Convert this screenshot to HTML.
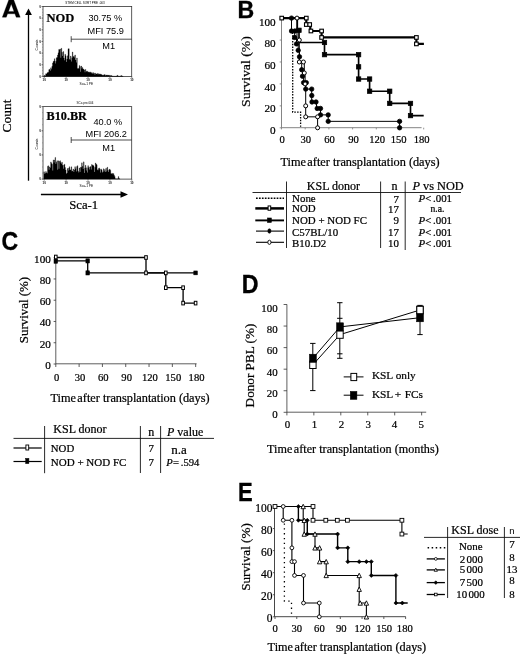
<!DOCTYPE html>
<html><head><meta charset="utf-8"><title>Figure</title>
<style>
html,body{margin:0;padding:0;background:#fff;}
body{width:520px;height:655px;overflow:hidden;font-family:"Liberation Serif",serif;}
svg{display:block;opacity:0.999;will-change:transform;}
text{fill:#000;} .b{stroke:#000;stroke-width:0.22px;}
</style></head><body>
<svg width="520" height="655" viewBox="0 0 520 655">
<rect x="0" y="0" width="520" height="655" fill="#fff"/>
<path d="M2.3,17.2 L9.0,-0.7 L13.5,-0.7 L20.2,17.2 L16.2,17.2 L14.92,13.8 L7.58,13.8 L6.3,17.2 Z M8.5,11.4 L14.0,11.4 L11.25,3.9 Z" fill="#000" fill-rule="evenodd" stroke="#000" stroke-width="0.3"/>
<text transform="translate(237.4,17.5) scale(0.98,1)" font-size="23.6" font-family="Liberation Sans, sans-serif" font-weight="bold" stroke="#000" stroke-width="0.35">B</text>
<text transform="translate(1.5,249.5) scale(0.92,1)" font-size="25" font-family="Liberation Sans, sans-serif" font-weight="bold" stroke="#000" stroke-width="0.35">C</text>
<text transform="translate(241.7,293.3) scale(0.93,1)" font-size="25" font-family="Liberation Sans, sans-serif" font-weight="bold" stroke="#000" stroke-width="0.35">D</text>
<text transform="translate(237.9,500.5) scale(0.88,1)" font-size="25" font-family="Liberation Sans, sans-serif" font-weight="bold" stroke="#000" stroke-width="0.35">E</text>
<line x1="28.50" y1="13.00" x2="28.50" y2="180.70" stroke="#000" stroke-width="1.3" />
<path d="M28.5,8.6 L31.9,15 L25.1,15 Z" fill="#000"/>
<line x1="40.90" y1="194.50" x2="122.00" y2="194.50" stroke="#000" stroke-width="1.3" />
<path d="M128,194.5 L120.5,191.2 L120.5,197.8 Z" fill="#000"/>
<text class="b" transform="translate(11.40,116.00) scale(1.0,1) rotate(-90)" font-size="13.4" text-anchor="middle" font-family="Liberation Serif, serif" >Count</text>
<text class="b" x="69.30" y="209.30" font-size="12.7" text-anchor="start" font-family="Liberation Serif, serif" >Sca-1</text>
<rect x="43" y="6.5" width="88.69999999999999" height="69.9" fill="none" stroke="#333" stroke-width="0.8"/>
<path d="M43.80,76.40 L43.80,75.84 L44.42,75.84 L44.42,75.34 L45.04,75.34 L45.04,75.64 L45.66,75.64 L45.66,73.70 L46.28,73.70 L46.28,73.88 L46.90,73.88 L46.90,72.95 L47.52,72.95 L47.52,72.23 L48.14,72.23 L48.14,72.30 L48.76,72.30 L48.76,69.64 L49.38,69.64 L49.38,69.17 L50.00,69.17 L50.00,70.77 L50.62,70.77 L50.62,67.83 L51.24,67.83 L51.24,69.37 L51.86,69.37 L51.86,66.36 L52.48,66.36 L52.48,63.03 L53.10,63.03 L53.10,61.47 L53.72,61.47 L53.72,60.95 L54.34,60.95 L54.34,58.72 L54.96,58.72 L54.96,63.62 L55.58,63.62 L55.58,61.28 L56.20,61.28 L56.20,57.79 L56.82,57.79 L56.82,57.58 L57.44,57.58 L57.44,55.06 L58.06,55.06 L58.06,52.82 L58.68,52.82 L58.68,49.45 L59.30,49.45 L59.30,49.41 L59.92,49.41 L59.92,48.97 L60.54,48.97 L60.54,57.79 L61.16,57.79 L61.16,48.27 L61.78,48.27 L61.78,52.32 L62.40,52.32 L62.40,56.11 L63.02,56.11 L63.02,51.60 L63.64,51.60 L63.64,57.88 L64.26,57.88 L64.26,60.27 L64.88,60.27 L64.88,54.22 L65.50,54.22 L65.50,55.78 L66.12,55.78 L66.12,62.07 L66.74,62.07 L66.74,58.94 L67.36,58.94 L67.36,55.86 L67.98,55.86 L67.98,48.78 L68.60,48.78 L68.60,48.78 L69.22,48.78 L69.22,59.14 L69.84,59.14 L69.84,59.87 L70.46,59.87 L70.46,56.09 L71.08,56.09 L71.08,61.52 L71.70,61.52 L71.70,57.64 L72.32,57.64 L72.32,51.98 L72.94,51.98 L72.94,57.11 L73.56,57.11 L73.56,56.05 L74.18,56.05 L74.18,57.57 L74.80,57.57 L74.80,54.94 L75.42,54.94 L75.42,60.09 L76.04,60.09 L76.04,62.57 L76.66,62.57 L76.66,57.92 L77.28,57.92 L77.28,68.51 L77.90,68.51 L77.90,68.27 L78.52,68.27 L78.52,68.87 L79.14,68.87 L79.14,65.39 L79.76,65.39 L79.76,66.54 L80.38,66.54 L80.38,71.80 L81.00,71.80 L81.00,66.04 L81.62,66.04 L81.62,68.55 L82.24,68.55 L82.24,67.54 L82.86,67.54 L82.86,68.94 L83.48,68.94 L83.48,69.35 L84.10,69.35 L84.10,70.03 L84.72,70.03 L84.72,72.33 L85.34,72.33 L85.34,69.41 L85.96,69.41 L85.96,71.25 L86.58,71.25 L86.58,71.44 L87.20,71.44 L87.20,71.14 L87.82,71.14 L87.82,72.27 L88.44,72.27 L88.44,71.92 L89.06,71.92 L89.06,71.92 L89.68,71.92 L89.68,72.72 L90.30,72.72 L90.30,71.88 L90.92,71.88 L90.92,72.51 L91.54,72.51 L91.54,73.33 L92.16,73.33 L92.16,73.38 L92.78,73.38 L92.78,72.47 L93.40,72.47 L93.40,73.60 L94.02,73.60 L94.02,73.15 L94.64,73.15 L94.64,74.85 L95.26,74.85 L95.26,73.17 L95.88,73.17 L95.88,73.90 L96.50,73.90 L96.50,73.90 L97.12,73.90 L97.12,73.38 L97.74,73.38 L97.74,74.60 L98.36,74.60 L98.36,73.68 L98.98,73.68 L98.98,74.30 L99.60,74.30 L99.60,73.89 L100.22,73.89 L100.22,74.18 L100.84,74.18 L100.84,74.34 L101.46,74.34 L101.46,74.76 L102.08,74.76 L102.08,75.30 L102.70,75.30 L102.70,74.88 L103.32,74.88 L103.32,75.14 L103.94,75.14 L103.94,74.69 L104.56,74.69 L104.56,74.62 L105.18,74.62 L105.18,75.44 L105.80,75.44 L105.80,75.25 L106.42,75.25 L106.42,74.97 L107.04,74.97 L107.04,75.18 L107.66,75.18 L107.66,75.10 L108.28,75.10 L108.28,75.37 L108.90,75.37 L108.90,75.28 L109.52,75.28 L109.52,75.40 L110.14,75.40 L110.14,75.38 L110.76,75.38 L110.76,75.70 L111.38,75.70 L111.38,75.59 L112.00,75.59 L112.00,76.08 L112.62,76.08 L112.62,76.22 L113.24,76.22 L113.24,76.19 L113.86,76.19 L113.86,76.19 L114.48,76.19 L114.48,76.31 L115.10,76.31 L115.10,76.32 L115.72,76.32 L115.72,76.19 L116.34,76.19 L116.34,75.97 L116.96,75.97 L116.96,75.28 L117.58,75.28 L117.58,75.82 L118.20,75.82 L118.20,76.23 L118.82,76.23 L118.82,76.26 L119.44,76.26 L119.44,76.27 L120.06,76.27 L120.06,76.16 L120.68,76.16 L120.68,75.76 L121.30,75.76 L121.30,75.62 L121.92,75.62 L121.92,76.13 L122.54,76.13 L122.54,76.32 L123.16,76.32 L123.16,76.40 Z" fill="#000" stroke="#000" stroke-width="0.25"/>
<line x1="44.20" y1="76.40" x2="44.20" y2="78.00" stroke="#333" stroke-width="0.6" />
<text  x="44.20" y="80.80" font-size="3.0" text-anchor="middle" font-family="Liberation Sans, sans-serif" fill="#111" font-weight="bold">10</text>
<line x1="66.10" y1="76.40" x2="66.10" y2="78.00" stroke="#333" stroke-width="0.6" />
<text  x="66.10" y="80.80" font-size="3.0" text-anchor="middle" font-family="Liberation Sans, sans-serif" fill="#111" font-weight="bold">10</text>
<line x1="88.00" y1="76.40" x2="88.00" y2="78.00" stroke="#333" stroke-width="0.6" />
<text  x="88.00" y="80.80" font-size="3.0" text-anchor="middle" font-family="Liberation Sans, sans-serif" fill="#111" font-weight="bold">10</text>
<line x1="109.90" y1="76.40" x2="109.90" y2="78.00" stroke="#333" stroke-width="0.6" />
<text  x="109.90" y="80.80" font-size="3.0" text-anchor="middle" font-family="Liberation Sans, sans-serif" fill="#111" font-weight="bold">10</text>
<line x1="131.80" y1="76.40" x2="131.80" y2="78.00" stroke="#333" stroke-width="0.6" />
<text  x="131.80" y="80.80" font-size="3.0" text-anchor="middle" font-family="Liberation Sans, sans-serif" fill="#111" font-weight="bold">10</text>
<line x1="41.50" y1="76.40" x2="43.00" y2="76.40" stroke="#333" stroke-width="0.6" />
<text  x="40.80" y="77.50" font-size="3.0" text-anchor="end" font-family="Liberation Sans, sans-serif" fill="#111" font-weight="bold">0</text>
<line x1="41.50" y1="64.75" x2="43.00" y2="64.75" stroke="#333" stroke-width="0.6" />
<text  x="40.80" y="65.85" font-size="3.0" text-anchor="end" font-family="Liberation Sans, sans-serif" fill="#111" font-weight="bold">0</text>
<line x1="41.50" y1="53.10" x2="43.00" y2="53.10" stroke="#333" stroke-width="0.6" />
<text  x="40.80" y="54.20" font-size="3.0" text-anchor="end" font-family="Liberation Sans, sans-serif" fill="#111" font-weight="bold">0</text>
<line x1="41.50" y1="41.45" x2="43.00" y2="41.45" stroke="#333" stroke-width="0.6" />
<text  x="40.80" y="42.55" font-size="3.0" text-anchor="end" font-family="Liberation Sans, sans-serif" fill="#111" font-weight="bold">0</text>
<line x1="41.50" y1="29.80" x2="43.00" y2="29.80" stroke="#333" stroke-width="0.6" />
<text  x="40.80" y="30.90" font-size="3.0" text-anchor="end" font-family="Liberation Sans, sans-serif" fill="#111" font-weight="bold">0</text>
<line x1="41.50" y1="18.15" x2="43.00" y2="18.15" stroke="#333" stroke-width="0.6" />
<text  x="40.80" y="19.25" font-size="3.0" text-anchor="end" font-family="Liberation Sans, sans-serif" fill="#111" font-weight="bold">0</text>
<line x1="41.50" y1="6.50" x2="43.00" y2="6.50" stroke="#333" stroke-width="0.6" />
<text  x="40.80" y="7.60" font-size="3.0" text-anchor="end" font-family="Liberation Sans, sans-serif" fill="#111" font-weight="bold">0</text>
<line x1="42.20" y1="76.40" x2="43.00" y2="76.40" stroke="#555" stroke-width="0.4" />
<line x1="42.20" y1="73.49" x2="43.00" y2="73.49" stroke="#555" stroke-width="0.4" />
<line x1="42.20" y1="70.58" x2="43.00" y2="70.58" stroke="#555" stroke-width="0.4" />
<line x1="42.20" y1="67.66" x2="43.00" y2="67.66" stroke="#555" stroke-width="0.4" />
<line x1="42.20" y1="64.75" x2="43.00" y2="64.75" stroke="#555" stroke-width="0.4" />
<line x1="42.20" y1="61.84" x2="43.00" y2="61.84" stroke="#555" stroke-width="0.4" />
<line x1="42.20" y1="58.93" x2="43.00" y2="58.93" stroke="#555" stroke-width="0.4" />
<line x1="42.20" y1="56.01" x2="43.00" y2="56.01" stroke="#555" stroke-width="0.4" />
<line x1="42.20" y1="53.10" x2="43.00" y2="53.10" stroke="#555" stroke-width="0.4" />
<line x1="42.20" y1="50.19" x2="43.00" y2="50.19" stroke="#555" stroke-width="0.4" />
<line x1="42.20" y1="47.28" x2="43.00" y2="47.28" stroke="#555" stroke-width="0.4" />
<line x1="42.20" y1="44.36" x2="43.00" y2="44.36" stroke="#555" stroke-width="0.4" />
<line x1="42.20" y1="41.45" x2="43.00" y2="41.45" stroke="#555" stroke-width="0.4" />
<line x1="42.20" y1="38.54" x2="43.00" y2="38.54" stroke="#555" stroke-width="0.4" />
<line x1="42.20" y1="35.62" x2="43.00" y2="35.62" stroke="#555" stroke-width="0.4" />
<line x1="42.20" y1="32.71" x2="43.00" y2="32.71" stroke="#555" stroke-width="0.4" />
<line x1="42.20" y1="29.80" x2="43.00" y2="29.80" stroke="#555" stroke-width="0.4" />
<line x1="42.20" y1="26.89" x2="43.00" y2="26.89" stroke="#555" stroke-width="0.4" />
<line x1="42.20" y1="23.98" x2="43.00" y2="23.98" stroke="#555" stroke-width="0.4" />
<line x1="42.20" y1="21.06" x2="43.00" y2="21.06" stroke="#555" stroke-width="0.4" />
<line x1="42.20" y1="18.15" x2="43.00" y2="18.15" stroke="#555" stroke-width="0.4" />
<line x1="42.20" y1="15.24" x2="43.00" y2="15.24" stroke="#555" stroke-width="0.4" />
<line x1="42.20" y1="12.33" x2="43.00" y2="12.33" stroke="#555" stroke-width="0.4" />
<line x1="42.20" y1="9.41" x2="43.00" y2="9.41" stroke="#555" stroke-width="0.4" />
<line x1="42.20" y1="6.50" x2="43.00" y2="6.50" stroke="#555" stroke-width="0.4" />
<text  x="86.35" y="84.70" font-size="3.2" text-anchor="middle" font-family="Liberation Sans, sans-serif" fill="#333">Sca-1 PE</text>
<text transform="translate(37.60,45.00) rotate(-90)" font-size="3.4" text-anchor="middle" font-family="Liberation Sans, sans-serif" fill="#222">Counts</text>
<text  x="85.00" y="4.30" font-size="3.0" text-anchor="middle" font-family="Liberation Sans, sans-serif" fill="#333">STEM CELL SORT  PRE .003</text>
<text class="b" x="46.60" y="21.60" font-size="12.5" text-anchor="start" font-family="Liberation Serif, serif" font-weight="bold">NOD</text>
<text  x="88.40" y="20.80" font-size="9.2" text-anchor="start" font-family="Liberation Sans, sans-serif" fill="#111">30.75 %</text>
<text  x="87.60" y="33.50" font-size="9.2" text-anchor="start" font-family="Liberation Sans, sans-serif" fill="#111">MFI 75.9</text>
<line x1="71.20" y1="39.20" x2="131.70" y2="39.20" stroke="#222" stroke-width="0.8" />
<line x1="71.20" y1="36.20" x2="71.20" y2="42.20" stroke="#222" stroke-width="0.8" />
<text  x="102.30" y="49.30" font-size="9.2" text-anchor="start" font-family="Liberation Sans, sans-serif" fill="#111">M1</text>
<rect x="43" y="106.6" width="88.69999999999999" height="72.5" fill="none" stroke="#333" stroke-width="0.8"/>
<path d="M43.80,179.10 L43.80,171.80 L44.42,171.80 L44.42,173.71 L45.04,173.71 L45.04,173.35 L45.66,173.35 L45.66,171.43 L46.28,171.43 L46.28,172.85 L46.90,172.85 L46.90,173.20 L47.52,173.20 L47.52,166.14 L48.14,166.14 L48.14,165.83 L48.76,165.83 L48.76,169.64 L49.38,169.64 L49.38,166.91 L50.00,166.91 L50.00,167.77 L50.62,167.77 L50.62,161.92 L51.24,161.92 L51.24,163.14 L51.86,163.14 L51.86,164.16 L52.48,164.16 L52.48,170.58 L53.10,170.58 L53.10,159.88 L53.72,159.88 L53.72,162.41 L54.34,162.41 L54.34,160.09 L54.96,160.09 L54.96,157.38 L55.58,157.38 L55.58,164.00 L56.20,164.00 L56.20,162.34 L56.82,162.34 L56.82,160.73 L57.44,160.73 L57.44,169.77 L58.06,169.77 L58.06,160.86 L58.68,160.86 L58.68,168.70 L59.30,168.70 L59.30,161.26 L59.92,161.26 L59.92,160.73 L60.54,160.73 L60.54,162.55 L61.16,162.55 L61.16,163.81 L61.78,163.81 L61.78,162.17 L62.40,162.17 L62.40,165.34 L63.02,165.34 L63.02,168.72 L63.64,168.72 L63.64,164.93 L64.26,164.93 L64.26,164.19 L64.88,164.19 L64.88,167.52 L65.50,167.52 L65.50,170.11 L66.12,170.11 L66.12,173.65 L66.74,173.65 L66.74,173.07 L67.36,173.07 L67.36,168.44 L67.98,168.44 L67.98,170.50 L68.60,170.50 L68.60,167.99 L69.22,167.99 L69.22,166.73 L69.84,166.73 L69.84,169.98 L70.46,169.98 L70.46,169.77 L71.08,169.77 L71.08,166.86 L71.70,166.86 L71.70,171.15 L72.32,171.15 L72.32,170.91 L72.94,170.91 L72.94,168.98 L73.56,168.98 L73.56,171.89 L74.18,171.89 L74.18,169.88 L74.80,169.88 L74.80,166.65 L75.42,166.65 L75.42,168.86 L76.04,168.86 L76.04,171.60 L76.66,171.60 L76.66,166.50 L77.28,166.50 L77.28,165.64 L77.90,165.64 L77.90,171.20 L78.52,171.20 L78.52,172.52 L79.14,172.52 L79.14,167.95 L79.76,167.95 L79.76,172.07 L80.38,172.07 L80.38,167.23 L81.00,167.23 L81.00,167.29 L81.62,167.29 L81.62,162.86 L82.24,162.86 L82.24,166.23 L82.86,166.23 L82.86,168.90 L83.48,168.90 L83.48,161.87 L84.10,161.87 L84.10,172.96 L84.72,172.96 L84.72,167.94 L85.34,167.94 L85.34,165.34 L85.96,165.34 L85.96,170.54 L86.58,170.54 L86.58,167.71 L87.20,167.71 L87.20,172.40 L87.82,172.40 L87.82,165.63 L88.44,165.63 L88.44,167.51 L89.06,167.51 L89.06,169.53 L89.68,169.53 L89.68,166.94 L90.30,166.94 L90.30,166.52 L90.92,166.52 L90.92,169.48 L91.54,169.48 L91.54,164.50 L92.16,164.50 L92.16,165.17 L92.78,165.17 L92.78,165.04 L93.40,165.04 L93.40,166.02 L94.02,166.02 L94.02,171.95 L94.64,171.95 L94.64,167.18 L95.26,167.18 L95.26,162.96 L95.88,162.96 L95.88,163.94 L96.50,163.94 L96.50,164.68 L97.12,164.68 L97.12,169.76 L97.74,169.76 L97.74,170.31 L98.36,170.31 L98.36,168.46 L98.98,168.46 L98.98,167.89 L99.60,167.89 L99.60,169.36 L100.22,169.36 L100.22,172.40 L100.84,172.40 L100.84,168.92 L101.46,168.92 L101.46,169.91 L102.08,169.91 L102.08,172.53 L102.70,172.53 L102.70,171.74 L103.32,171.74 L103.32,168.78 L103.94,168.78 L103.94,171.13 L104.56,171.13 L104.56,169.50 L105.18,169.50 L105.18,172.08 L105.80,172.08 L105.80,168.16 L106.42,168.16 L106.42,171.59 L107.04,171.59 L107.04,167.18 L107.66,167.18 L107.66,170.13 L108.28,170.13 L108.28,171.94 L108.90,171.94 L108.90,169.59 L109.52,169.59 L109.52,169.16 L110.14,169.16 L110.14,170.28 L110.76,170.28 L110.76,173.38 L111.38,173.38 L111.38,173.63 L112.00,173.63 L112.00,173.32 L112.62,173.32 L112.62,174.28 L113.24,174.28 L113.24,173.56 L113.86,173.56 L113.86,175.13 L114.48,175.13 L114.48,176.42 L115.10,176.42 L115.10,178.72 L115.72,178.72 L115.72,178.82 L116.34,178.82 L116.34,178.93 L116.96,178.93 L116.96,178.97 L117.58,178.97 L117.58,178.78 L118.20,178.78 L118.20,176.62 L118.82,176.62 L118.82,178.54 L119.44,178.54 L119.44,179.01 L120.06,179.01 L120.06,179.10 Z" fill="#000" stroke="#000" stroke-width="0.25"/>
<line x1="44.20" y1="179.10" x2="44.20" y2="180.70" stroke="#333" stroke-width="0.6" />
<text  x="44.20" y="183.50" font-size="3.0" text-anchor="middle" font-family="Liberation Sans, sans-serif" fill="#111" font-weight="bold">10</text>
<line x1="66.10" y1="179.10" x2="66.10" y2="180.70" stroke="#333" stroke-width="0.6" />
<text  x="66.10" y="183.50" font-size="3.0" text-anchor="middle" font-family="Liberation Sans, sans-serif" fill="#111" font-weight="bold">10</text>
<line x1="88.00" y1="179.10" x2="88.00" y2="180.70" stroke="#333" stroke-width="0.6" />
<text  x="88.00" y="183.50" font-size="3.0" text-anchor="middle" font-family="Liberation Sans, sans-serif" fill="#111" font-weight="bold">10</text>
<line x1="109.90" y1="179.10" x2="109.90" y2="180.70" stroke="#333" stroke-width="0.6" />
<text  x="109.90" y="183.50" font-size="3.0" text-anchor="middle" font-family="Liberation Sans, sans-serif" fill="#111" font-weight="bold">10</text>
<line x1="131.80" y1="179.10" x2="131.80" y2="180.70" stroke="#333" stroke-width="0.6" />
<text  x="131.80" y="183.50" font-size="3.0" text-anchor="middle" font-family="Liberation Sans, sans-serif" fill="#111" font-weight="bold">10</text>
<line x1="41.50" y1="179.10" x2="43.00" y2="179.10" stroke="#333" stroke-width="0.6" />
<text  x="40.80" y="180.20" font-size="3.0" text-anchor="end" font-family="Liberation Sans, sans-serif" fill="#111" font-weight="bold">0</text>
<line x1="41.50" y1="154.93" x2="43.00" y2="154.93" stroke="#333" stroke-width="0.6" />
<text  x="40.80" y="156.03" font-size="3.0" text-anchor="end" font-family="Liberation Sans, sans-serif" fill="#111" font-weight="bold">0</text>
<line x1="41.50" y1="130.77" x2="43.00" y2="130.77" stroke="#333" stroke-width="0.6" />
<text  x="40.80" y="131.87" font-size="3.0" text-anchor="end" font-family="Liberation Sans, sans-serif" fill="#111" font-weight="bold">0</text>
<line x1="41.50" y1="106.60" x2="43.00" y2="106.60" stroke="#333" stroke-width="0.6" />
<text  x="40.80" y="107.70" font-size="3.0" text-anchor="end" font-family="Liberation Sans, sans-serif" fill="#111" font-weight="bold">0</text>
<line x1="42.20" y1="179.10" x2="43.00" y2="179.10" stroke="#555" stroke-width="0.4" />
<line x1="42.20" y1="173.06" x2="43.00" y2="173.06" stroke="#555" stroke-width="0.4" />
<line x1="42.20" y1="167.02" x2="43.00" y2="167.02" stroke="#555" stroke-width="0.4" />
<line x1="42.20" y1="160.97" x2="43.00" y2="160.97" stroke="#555" stroke-width="0.4" />
<line x1="42.20" y1="154.93" x2="43.00" y2="154.93" stroke="#555" stroke-width="0.4" />
<line x1="42.20" y1="148.89" x2="43.00" y2="148.89" stroke="#555" stroke-width="0.4" />
<line x1="42.20" y1="142.85" x2="43.00" y2="142.85" stroke="#555" stroke-width="0.4" />
<line x1="42.20" y1="136.81" x2="43.00" y2="136.81" stroke="#555" stroke-width="0.4" />
<line x1="42.20" y1="130.77" x2="43.00" y2="130.77" stroke="#555" stroke-width="0.4" />
<line x1="42.20" y1="124.72" x2="43.00" y2="124.72" stroke="#555" stroke-width="0.4" />
<line x1="42.20" y1="118.68" x2="43.00" y2="118.68" stroke="#555" stroke-width="0.4" />
<line x1="42.20" y1="112.64" x2="43.00" y2="112.64" stroke="#555" stroke-width="0.4" />
<line x1="42.20" y1="106.60" x2="43.00" y2="106.60" stroke="#555" stroke-width="0.4" />
<text  x="86.35" y="187.40" font-size="3.2" text-anchor="middle" font-family="Liberation Sans, sans-serif" fill="#333">Sca-1 PE</text>
<text transform="translate(37.60,144.00) rotate(-90)" font-size="3.4" text-anchor="middle" font-family="Liberation Sans, sans-serif" fill="#222">Counts</text>
<text  x="85.00" y="104.40" font-size="3.0" text-anchor="middle" font-family="Liberation Sans, sans-serif" fill="#333">SCa pre.004</text>
<text class="b" x="46.60" y="120.40" font-size="12.2" text-anchor="start" font-family="Liberation Serif, serif" font-weight="bold">B10.BR</text>
<text  x="93.50" y="124.60" font-size="9.2" text-anchor="start" font-family="Liberation Sans, sans-serif" fill="#111">40.0 %</text>
<text  x="85.60" y="136.90" font-size="9.2" text-anchor="start" font-family="Liberation Sans, sans-serif" fill="#111">MFI 206.2</text>
<line x1="71.20" y1="140.00" x2="131.70" y2="140.00" stroke="#222" stroke-width="0.8" />
<line x1="71.20" y1="137.00" x2="71.20" y2="143.00" stroke="#222" stroke-width="0.8" />
<text  x="102.30" y="150.80" font-size="9.2" text-anchor="start" font-family="Liberation Sans, sans-serif" fill="#111">M1</text>
<line x1="281.50" y1="17.60" x2="281.50" y2="127.80" stroke="#777" stroke-width="0.9" />
<line x1="281.50" y1="127.70" x2="421.60" y2="127.70" stroke="#777" stroke-width="0.9" />
<line x1="279.70" y1="127.80" x2="281.50" y2="127.80" stroke="#777" stroke-width="0.8" />
<text class="b" x="275.70" y="133.80" font-size="11.2" text-anchor="end" font-family="Liberation Serif, serif" >0</text>
<line x1="279.70" y1="105.86" x2="281.50" y2="105.86" stroke="#777" stroke-width="0.8" />
<text class="b" x="275.70" y="112.20" font-size="11.2" text-anchor="end" font-family="Liberation Serif, serif" >20</text>
<line x1="279.70" y1="83.92" x2="281.50" y2="83.92" stroke="#777" stroke-width="0.8" />
<text class="b" x="275.70" y="90.60" font-size="11.2" text-anchor="end" font-family="Liberation Serif, serif" >40</text>
<line x1="279.70" y1="61.98" x2="281.50" y2="61.98" stroke="#777" stroke-width="0.8" />
<text class="b" x="275.70" y="69.00" font-size="11.2" text-anchor="end" font-family="Liberation Serif, serif" >60</text>
<line x1="279.70" y1="40.04" x2="281.50" y2="40.04" stroke="#777" stroke-width="0.8" />
<text class="b" x="275.70" y="47.40" font-size="11.2" text-anchor="end" font-family="Liberation Serif, serif" >80</text>
<line x1="279.70" y1="18.10" x2="281.50" y2="18.10" stroke="#777" stroke-width="0.8" />
<text class="b" x="275.70" y="25.80" font-size="11.2" text-anchor="end" font-family="Liberation Serif, serif" >100</text>
<line x1="281.50" y1="127.70" x2="281.50" y2="129.40" stroke="#777" stroke-width="0.8" />
<text class="b" x="282.10" y="143.20" font-size="10.6" text-anchor="middle" font-family="Liberation Serif, serif" >0</text>
<line x1="305.20" y1="127.70" x2="305.20" y2="129.40" stroke="#777" stroke-width="0.8" />
<text class="b" x="305.80" y="143.20" font-size="10.6" text-anchor="middle" font-family="Liberation Serif, serif" >30</text>
<line x1="328.90" y1="127.70" x2="328.90" y2="129.40" stroke="#777" stroke-width="0.8" />
<text class="b" x="329.50" y="143.20" font-size="10.6" text-anchor="middle" font-family="Liberation Serif, serif" >60</text>
<line x1="352.60" y1="127.70" x2="352.60" y2="129.40" stroke="#777" stroke-width="0.8" />
<text class="b" x="353.60" y="143.20" font-size="10.6" text-anchor="middle" font-family="Liberation Serif, serif" >90</text>
<line x1="376.30" y1="127.70" x2="376.30" y2="129.40" stroke="#777" stroke-width="0.8" />
<text class="b" x="377.20" y="143.20" font-size="10.6" text-anchor="middle" font-family="Liberation Serif, serif" >120</text>
<line x1="400.00" y1="127.70" x2="400.00" y2="129.40" stroke="#777" stroke-width="0.8" />
<text class="b" x="398.60" y="143.20" font-size="10.6" text-anchor="middle" font-family="Liberation Serif, serif" >150</text>
<line x1="423.70" y1="127.70" x2="423.70" y2="129.40" stroke="#777" stroke-width="0.8" />
<text class="b" x="421.60" y="143.20" font-size="10.6" text-anchor="middle" font-family="Liberation Serif, serif" >180</text>
<text class="b" transform="translate(249.60,71.50) scale(0.9,1) rotate(-90)" font-size="13.8" text-anchor="middle" font-family="Liberation Serif, serif" >Survival (%)</text>
<text class="b" x="280.4" y="165.7" font-size="12.3" font-family="Liberation Serif, serif" textLength="159.2" lengthAdjust="spacing">Time<tspan dx="-1.6"> </tspan>after transplantation (days)</text>
<path d="M292.70,32.50 L292.70,112.10 L300.60,112.10 L300.60,126.80" fill="none" stroke="#000" stroke-width="1.3" stroke-dasharray="1.5,1.3"/>
<path d="M281.50,18.10 L291.50,18.10 L291.50,31.00 L294.70,31.00 L294.70,37.46 L296.50,37.46 L296.50,43.91 L298.20,43.91 L298.20,50.36 L299.50,50.36 L299.50,63.27 L301.70,63.27 L301.70,69.72 L302.50,69.72 L302.50,76.18 L303.60,76.18 L303.60,82.63 L305.70,82.63 L305.70,89.08 L311.70,89.08 L311.70,101.99 L316.50,101.99 L316.50,108.44 L320.50,108.44 L320.50,114.89 L328.20,114.89 L328.20,121.35 L399.60,121.35 L399.60,127.80" fill="none" stroke="#000" stroke-width="1.0" />
<path d="M281.50,18.10 L297.00,18.10 L297.00,40.04 L299.30,40.04 L299.30,61.98 L303.40,61.98 L304.30,61.98 L304.30,72.95 L305.10,72.95 L305.10,83.92 L305.70,83.92 L305.70,116.83 L317.60,116.83 L317.60,127.80" fill="none" stroke="#000" stroke-width="1.0" />
<path d="M281.50,18.09 L297.30,18.09 L297.30,30.28 L299.00,30.28 L299.00,42.47 L324.50,42.47 L324.50,54.66 L358.60,54.66 L358.60,79.04 L369.60,79.04 L369.60,91.23 L389.70,91.23 L389.70,103.42 L410.50,103.42 L410.50,115.61 L423.70,115.61" fill="none" stroke="#000" stroke-width="1.65" />
<path d="M281.50,18.10 L306.30,18.10 L306.30,24.55 L310.30,24.55 L310.30,31.00 L321.60,31.00 L321.60,37.46 L416.40,37.46 L416.40,43.91 L423.90,43.91" fill="none" stroke="#000" stroke-width="2.2" />
<circle cx="291.50" cy="18.10" r="2.2" fill="#000" stroke="#000" stroke-width="0.8"/>
<circle cx="291.50" cy="31.00" r="2.2" fill="#000" stroke="#000" stroke-width="0.8"/>
<circle cx="294.90" cy="31.00" r="2.2" fill="#000" stroke="#000" stroke-width="0.8"/>
<circle cx="294.70" cy="37.46" r="2.2" fill="#000" stroke="#000" stroke-width="0.8"/>
<circle cx="296.50" cy="43.91" r="2.2" fill="#000" stroke="#000" stroke-width="0.8"/>
<circle cx="298.20" cy="50.36" r="2.2" fill="#000" stroke="#000" stroke-width="0.8"/>
<circle cx="299.50" cy="56.82" r="2.2" fill="#000" stroke="#000" stroke-width="0.8"/>
<circle cx="301.70" cy="69.72" r="2.2" fill="#000" stroke="#000" stroke-width="0.8"/>
<circle cx="302.50" cy="76.18" r="2.2" fill="#000" stroke="#000" stroke-width="0.8"/>
<circle cx="303.60" cy="82.63" r="2.2" fill="#000" stroke="#000" stroke-width="0.8"/>
<circle cx="306.30" cy="82.63" r="2.2" fill="#000" stroke="#000" stroke-width="0.8"/>
<circle cx="305.70" cy="89.08" r="2.2" fill="#000" stroke="#000" stroke-width="0.8"/>
<circle cx="311.70" cy="89.08" r="2.2" fill="#000" stroke="#000" stroke-width="0.8"/>
<circle cx="311.80" cy="95.53" r="2.2" fill="#000" stroke="#000" stroke-width="0.8"/>
<circle cx="312.00" cy="101.99" r="2.2" fill="#000" stroke="#000" stroke-width="0.8"/>
<circle cx="316.00" cy="101.99" r="2.2" fill="#000" stroke="#000" stroke-width="0.8"/>
<circle cx="317.20" cy="108.44" r="2.2" fill="#000" stroke="#000" stroke-width="0.8"/>
<circle cx="320.50" cy="108.44" r="2.2" fill="#000" stroke="#000" stroke-width="0.8"/>
<circle cx="320.50" cy="114.89" r="2.2" fill="#000" stroke="#000" stroke-width="0.8"/>
<circle cx="328.20" cy="114.89" r="2.2" fill="#000" stroke="#000" stroke-width="0.8"/>
<circle cx="328.20" cy="121.35" r="2.2" fill="#000" stroke="#000" stroke-width="0.8"/>
<circle cx="399.60" cy="121.35" r="2.2" fill="#000" stroke="#000" stroke-width="0.8"/>
<circle cx="399.60" cy="127.80" r="2.2" fill="#000" stroke="#000" stroke-width="0.8"/>
<rect x="296.80" y="28.08" width="4.4" height="4.4" fill="#000" stroke="#000" stroke-width="0.7"/>
<rect x="322.30" y="40.27" width="4.4" height="4.4" fill="#000" stroke="#000" stroke-width="0.7"/>
<rect x="322.30" y="52.46" width="4.4" height="4.4" fill="#000" stroke="#000" stroke-width="0.7"/>
<rect x="356.40" y="52.46" width="4.4" height="4.4" fill="#000" stroke="#000" stroke-width="0.7"/>
<rect x="356.40" y="64.65" width="4.4" height="4.4" fill="#000" stroke="#000" stroke-width="0.7"/>
<rect x="356.40" y="76.84" width="4.4" height="4.4" fill="#000" stroke="#000" stroke-width="0.7"/>
<rect x="367.40" y="76.84" width="4.4" height="4.4" fill="#000" stroke="#000" stroke-width="0.7"/>
<rect x="367.40" y="89.03" width="4.4" height="4.4" fill="#000" stroke="#000" stroke-width="0.7"/>
<rect x="387.50" y="89.03" width="4.4" height="4.4" fill="#000" stroke="#000" stroke-width="0.7"/>
<rect x="387.50" y="101.22" width="4.4" height="4.4" fill="#000" stroke="#000" stroke-width="0.7"/>
<rect x="408.30" y="101.22" width="4.4" height="4.4" fill="#000" stroke="#000" stroke-width="0.7"/>
<rect x="408.30" y="113.41" width="4.4" height="4.4" fill="#000" stroke="#000" stroke-width="0.7"/>
<circle cx="297.00" cy="18.10" r="2.0" fill="#fff" stroke="#000" stroke-width="1.0"/>
<circle cx="299.30" cy="40.04" r="2.0" fill="#fff" stroke="#000" stroke-width="1.0"/>
<circle cx="299.30" cy="61.98" r="2.0" fill="#fff" stroke="#000" stroke-width="1.0"/>
<circle cx="303.40" cy="61.98" r="2.0" fill="#fff" stroke="#000" stroke-width="1.0"/>
<circle cx="304.30" cy="72.95" r="2.0" fill="#fff" stroke="#000" stroke-width="1.0"/>
<circle cx="305.10" cy="83.92" r="2.0" fill="#fff" stroke="#000" stroke-width="1.0"/>
<circle cx="305.70" cy="105.86" r="2.0" fill="#fff" stroke="#000" stroke-width="1.0"/>
<circle cx="305.70" cy="116.83" r="2.0" fill="#fff" stroke="#000" stroke-width="1.0"/>
<circle cx="317.60" cy="116.83" r="2.0" fill="#fff" stroke="#000" stroke-width="1.0"/>
<circle cx="317.60" cy="127.80" r="2.0" fill="#fff" stroke="#000" stroke-width="1.0"/>
<rect x="279.90" y="16.30" width="3.6" height="3.6" fill="#fff" stroke="#000" stroke-width="1.1"/>
<rect x="304.50" y="16.30" width="3.6" height="3.6" fill="#fff" stroke="#000" stroke-width="1.1"/>
<rect x="304.50" y="22.75" width="3.6" height="3.6" fill="#fff" stroke="#000" stroke-width="1.1"/>
<rect x="307.90" y="22.75" width="3.6" height="3.6" fill="#fff" stroke="#000" stroke-width="1.1"/>
<rect x="309.10" y="29.20" width="3.6" height="3.6" fill="#fff" stroke="#000" stroke-width="1.1"/>
<rect x="319.80" y="29.20" width="3.6" height="3.6" fill="#fff" stroke="#000" stroke-width="1.1"/>
<rect x="319.80" y="35.66" width="3.6" height="3.6" fill="#fff" stroke="#000" stroke-width="1.1"/>
<rect x="414.60" y="35.66" width="3.6" height="3.6" fill="#fff" stroke="#000" stroke-width="1.1"/>
<rect x="414.60" y="42.11" width="3.6" height="3.6" fill="#fff" stroke="#000" stroke-width="1.1"/>
<line x1="286.50" y1="181.50" x2="286.50" y2="248.00" stroke="#111" stroke-width="0.9" />
<line x1="380.60" y1="181.50" x2="380.60" y2="248.00" stroke="#111" stroke-width="0.9" />
<line x1="405.20" y1="181.50" x2="405.20" y2="250.00" stroke="#111" stroke-width="0.9" />
<line x1="252.50" y1="192.50" x2="461.00" y2="192.50" stroke="#111" stroke-width="0.9" />
<text class="b" x="306.80" y="190.20" font-size="12" text-anchor="start" font-family="Liberation Serif, serif" >KSL donor</text>
<text class="b" x="394.50" y="189.70" font-size="12" text-anchor="middle" font-family="Liberation Serif, serif" >n</text>
<text class="b" x="412.5" y="190" font-size="12.3" font-family="Liberation Serif, serif"><tspan font-style="italic">P</tspan> vs NOD</text>
<text class="b" x="292.10" y="201.80" font-size="10.9" text-anchor="start" font-family="Liberation Serif, serif" >None</text>
<text class="b" x="399.00" y="202.50" font-size="10.9" text-anchor="end" font-family="Liberation Serif, serif" >7</text>
<text class="b" x="292.10" y="212.00" font-size="10.9" text-anchor="start" font-family="Liberation Serif, serif" >NOD</text>
<text class="b" x="399.00" y="213.00" font-size="10.9" text-anchor="end" font-family="Liberation Serif, serif" >17</text>
<text class="b" x="292.10" y="223.80" font-size="10.9" text-anchor="start" font-family="Liberation Serif, serif" >NOD + NOD FC</text>
<text class="b" x="399.00" y="224.30" font-size="10.9" text-anchor="end" font-family="Liberation Serif, serif" >9</text>
<text class="b" x="292.10" y="235.80" font-size="10.9" text-anchor="start" font-family="Liberation Serif, serif" >C57BL/10</text>
<text class="b" x="399.00" y="235.80" font-size="10.9" text-anchor="end" font-family="Liberation Serif, serif" >17</text>
<text class="b" x="292.10" y="246.60" font-size="10.9" text-anchor="start" font-family="Liberation Serif, serif" >B10.D2</text>
<text class="b" x="399.00" y="246.80" font-size="10.9" text-anchor="end" font-family="Liberation Serif, serif" >10</text>
<text class="b" x="418.6" y="202.3" font-size="10.9" font-family="Liberation Serif, serif"><tspan font-style="italic">P</tspan><tspan dx="0">&lt;</tspan><tspan dx="1.6">.001</tspan></text>
<text class="b" x="418.6" y="224.3" font-size="10.9" font-family="Liberation Serif, serif"><tspan font-style="italic">P</tspan><tspan dx="0">&lt;</tspan><tspan dx="1.6">.001</tspan></text>
<text class="b" x="418.6" y="235.8" font-size="10.9" font-family="Liberation Serif, serif"><tspan font-style="italic">P</tspan><tspan dx="0">&lt;</tspan><tspan dx="1.6">.001</tspan></text>
<text class="b" x="418.6" y="246.8" font-size="10.9" font-family="Liberation Serif, serif"><tspan font-style="italic">P</tspan><tspan dx="0">&lt;</tspan><tspan dx="1.6">.001</tspan></text>
<text class="b" x="437.50" y="212.00" font-size="9.6" text-anchor="middle" font-family="Liberation Serif, serif" >n.a.</text>
<line x1="256.00" y1="198.20" x2="284.00" y2="198.20" stroke="#000" stroke-width="1.5" stroke-dasharray="1.7,1.25"/>
<line x1="255.30" y1="208.40" x2="284.00" y2="208.40" stroke="#000" stroke-width="2.5" />
<rect x="268.10" y="205.95" width="2.6" height="4.3" fill="#fff" stroke="#000" stroke-width="1.0"/>
<line x1="255.30" y1="220.40" x2="284.00" y2="220.40" stroke="#000" stroke-width="1.9" />
<rect x="267.50" y="218.00" width="3.8" height="4.4" fill="#000" stroke="#000" stroke-width="0.6"/>
<line x1="256.00" y1="231.10" x2="284.00" y2="231.10" stroke="#000" stroke-width="1.1" />
<ellipse cx="269.40" cy="231.00" rx="1.6" ry="2.3" fill="#000" stroke="#000" stroke-width="0.5"/>
<line x1="256.00" y1="242.30" x2="284.00" y2="242.30" stroke="#000" stroke-width="1.1" />
<ellipse cx="269.40" cy="242.30" rx="1.6" ry="2.1" fill="#fff" stroke="#000" stroke-width="0.9"/>
<line x1="55.80" y1="257.50" x2="55.80" y2="363.80" stroke="#2a2a2a" stroke-width="0.75" />
<line x1="55.80" y1="363.80" x2="196.60" y2="363.80" stroke="#2a2a2a" stroke-width="0.75" />
<line x1="53.60" y1="364.00" x2="55.80" y2="364.00" stroke="#2a2a2a" stroke-width="0.75" />
<text class="b" x="50.90" y="368.80" font-size="11.2" text-anchor="end" font-family="Liberation Serif, serif" >0</text>
<line x1="53.60" y1="342.74" x2="55.80" y2="342.74" stroke="#2a2a2a" stroke-width="0.75" />
<text class="b" x="50.90" y="347.54" font-size="11.2" text-anchor="end" font-family="Liberation Serif, serif" >20</text>
<line x1="53.60" y1="321.48" x2="55.80" y2="321.48" stroke="#2a2a2a" stroke-width="0.75" />
<text class="b" x="50.90" y="326.28" font-size="11.2" text-anchor="end" font-family="Liberation Serif, serif" >40</text>
<line x1="53.60" y1="300.22" x2="55.80" y2="300.22" stroke="#2a2a2a" stroke-width="0.75" />
<text class="b" x="50.90" y="305.02" font-size="11.2" text-anchor="end" font-family="Liberation Serif, serif" >60</text>
<line x1="53.60" y1="278.96" x2="55.80" y2="278.96" stroke="#2a2a2a" stroke-width="0.75" />
<text class="b" x="50.90" y="283.76" font-size="11.2" text-anchor="end" font-family="Liberation Serif, serif" >80</text>
<line x1="53.60" y1="257.70" x2="55.80" y2="257.70" stroke="#2a2a2a" stroke-width="0.75" />
<text class="b" x="50.90" y="262.50" font-size="11.2" text-anchor="end" font-family="Liberation Serif, serif" >100</text>
<line x1="55.80" y1="363.80" x2="55.80" y2="367.00" stroke="#2a2a2a" stroke-width="0.75" />
<text class="b" x="56.70" y="381.20" font-size="10.6" text-anchor="middle" font-family="Liberation Serif, serif" >0</text>
<line x1="79.11" y1="363.80" x2="79.11" y2="367.00" stroke="#2a2a2a" stroke-width="0.75" />
<text class="b" x="80.01" y="381.20" font-size="10.6" text-anchor="middle" font-family="Liberation Serif, serif" >30</text>
<line x1="102.42" y1="363.80" x2="102.42" y2="367.00" stroke="#2a2a2a" stroke-width="0.75" />
<text class="b" x="103.32" y="381.20" font-size="10.6" text-anchor="middle" font-family="Liberation Serif, serif" >60</text>
<line x1="125.73" y1="363.80" x2="125.73" y2="367.00" stroke="#2a2a2a" stroke-width="0.75" />
<text class="b" x="126.63" y="381.20" font-size="10.6" text-anchor="middle" font-family="Liberation Serif, serif" >90</text>
<line x1="149.04" y1="363.80" x2="149.04" y2="367.00" stroke="#2a2a2a" stroke-width="0.75" />
<text class="b" x="149.94" y="381.20" font-size="10.6" text-anchor="middle" font-family="Liberation Serif, serif" >120</text>
<line x1="172.35" y1="363.80" x2="172.35" y2="367.00" stroke="#2a2a2a" stroke-width="0.75" />
<text class="b" x="173.25" y="381.20" font-size="10.6" text-anchor="middle" font-family="Liberation Serif, serif" >150</text>
<line x1="195.66" y1="363.80" x2="195.66" y2="367.00" stroke="#2a2a2a" stroke-width="0.75" />
<text class="b" x="196.56" y="381.20" font-size="10.6" text-anchor="middle" font-family="Liberation Serif, serif" >180</text>
<text class="b" transform="translate(28.30,310.00) scale(0.95,1) rotate(-90)" font-size="12.9" text-anchor="middle" font-family="Liberation Serif, serif" >Survival (%)</text>
<text class="b" x="50.4" y="402" font-size="12.3" font-family="Liberation Serif, serif" textLength="159.2" lengthAdjust="spacing">Time<tspan dx="-1.6"> </tspan>after transplantation (days)</text>
<path d="M55.80,260.90 L87.70,260.90 L87.70,272.90 L195.60,272.90" fill="none" stroke="#000" stroke-width="1.3" />
<path d="M55.80,257.50 L146.00,257.50 L146.00,272.90 L165.80,272.90 L165.80,287.70 L183.10,287.70 L183.10,303.10 L195.60,303.10" fill="none" stroke="#000" stroke-width="1.3" />
<rect x="54.00" y="259.10" width="3.6" height="4.2" fill="#000" stroke="#000" stroke-width="0.5"/>
<rect x="85.90" y="258.80" width="3.6" height="4.2" fill="#000" stroke="#000" stroke-width="0.5"/>
<rect x="85.90" y="270.80" width="3.6" height="4.2" fill="#000" stroke="#000" stroke-width="0.5"/>
<rect x="193.80" y="270.95" width="3.6" height="3.9" fill="#000" stroke="#000" stroke-width="0.5"/>
<rect x="54.50" y="255.20" width="2.6" height="3.6" fill="#fff" stroke="#000" stroke-width="1.0"/>
<rect x="144.70" y="255.70" width="2.6" height="3.6" fill="#fff" stroke="#000" stroke-width="1.0"/>
<rect x="144.70" y="271.10" width="2.6" height="3.6" fill="#fff" stroke="#000" stroke-width="1.0"/>
<rect x="164.50" y="271.10" width="2.6" height="3.6" fill="#fff" stroke="#000" stroke-width="1.0"/>
<rect x="164.50" y="285.90" width="2.6" height="3.6" fill="#fff" stroke="#000" stroke-width="1.0"/>
<rect x="181.80" y="285.90" width="2.6" height="3.6" fill="#fff" stroke="#000" stroke-width="1.0"/>
<rect x="181.80" y="301.30" width="2.6" height="3.6" fill="#fff" stroke="#000" stroke-width="1.0"/>
<rect x="194.30" y="301.30" width="2.6" height="3.6" fill="#fff" stroke="#000" stroke-width="1.0"/>
<line x1="44.60" y1="426.00" x2="44.60" y2="473.20" stroke="#111" stroke-width="0.9" />
<line x1="140.40" y1="426.00" x2="140.40" y2="473.00" stroke="#111" stroke-width="0.9" />
<line x1="160.60" y1="426.00" x2="160.60" y2="473.00" stroke="#111" stroke-width="0.9" />
<line x1="13.50" y1="438.40" x2="214.00" y2="438.40" stroke="#111" stroke-width="0.9" />
<text class="b" x="53.30" y="433.30" font-size="12" text-anchor="start" font-family="Liberation Serif, serif" >KSL donor</text>
<text class="b" x="151.30" y="436.00" font-size="12" text-anchor="middle" font-family="Liberation Serif, serif" >n</text>
<text class="b" x="167" y="436.3" font-size="12" font-family="Liberation Serif, serif"><tspan font-style="italic">P</tspan> value</text>
<text class="b" x="50.80" y="451.90" font-size="10.8" text-anchor="start" font-family="Liberation Serif, serif" >NOD</text>
<text class="b" x="50.80" y="465.60" font-size="11" text-anchor="start" font-family="Liberation Serif, serif" >NOD + NOD FC</text>
<text class="b" x="151.30" y="451.80" font-size="10.8" text-anchor="middle" font-family="Liberation Serif, serif" >7</text>
<text class="b" x="151.30" y="465.50" font-size="10.8" text-anchor="middle" font-family="Liberation Serif, serif" >7</text>
<text class="b" x="171.30" y="453.80" font-size="13" text-anchor="start" font-family="Liberation Serif, serif" >n.a</text>
<text class="b" x="166.3" y="465.8" font-size="10.6" font-family="Liberation Serif, serif"><tspan font-style="italic">P</tspan><tspan dx="0.2">=</tspan><tspan dx="1.8">.594</tspan></text>
<line x1="13.50" y1="448.00" x2="41.70" y2="448.00" stroke="#000" stroke-width="1.2" />
<rect x="25.90" y="445.00" width="2.8" height="5.0" fill="#fff" stroke="#000" stroke-width="0.9"/>
<line x1="13.50" y1="461.50" x2="41.70" y2="461.50" stroke="#000" stroke-width="1.2" />
<rect x="25.70" y="458.40" width="3.2" height="5.2" fill="#000" stroke="#000" stroke-width="0.5"/>
<line x1="286.90" y1="304.40" x2="286.90" y2="412.20" stroke="#2a2a2a" stroke-width="0.75" />
<line x1="286.90" y1="412.20" x2="426.20" y2="412.20" stroke="#2a2a2a" stroke-width="0.75" />
<line x1="283.60" y1="304.50" x2="286.90" y2="304.50" stroke="#2a2a2a" stroke-width="0.75" />
<text class="b" x="277.70" y="311.60" font-size="10.9" text-anchor="end" font-family="Liberation Serif, serif" >100</text>
<line x1="283.60" y1="326.06" x2="286.90" y2="326.06" stroke="#2a2a2a" stroke-width="0.75" />
<text class="b" x="277.70" y="332.90" font-size="10.9" text-anchor="end" font-family="Liberation Serif, serif" >80</text>
<line x1="283.60" y1="347.62" x2="286.90" y2="347.62" stroke="#2a2a2a" stroke-width="0.75" />
<text class="b" x="277.70" y="354.20" font-size="10.9" text-anchor="end" font-family="Liberation Serif, serif" >60</text>
<line x1="283.60" y1="369.18" x2="286.90" y2="369.18" stroke="#2a2a2a" stroke-width="0.75" />
<text class="b" x="277.70" y="375.50" font-size="10.9" text-anchor="end" font-family="Liberation Serif, serif" >40</text>
<line x1="283.60" y1="390.74" x2="286.90" y2="390.74" stroke="#2a2a2a" stroke-width="0.75" />
<text class="b" x="277.70" y="396.80" font-size="10.9" text-anchor="end" font-family="Liberation Serif, serif" >20</text>
<line x1="283.60" y1="412.30" x2="286.90" y2="412.30" stroke="#2a2a2a" stroke-width="0.75" />
<text class="b" x="277.70" y="418.10" font-size="10.9" text-anchor="end" font-family="Liberation Serif, serif" >0</text>
<line x1="286.90" y1="412.20" x2="286.90" y2="415.40" stroke="#2a2a2a" stroke-width="0.75" />
<text class="b" x="287.50" y="427.80" font-size="10.9" text-anchor="middle" font-family="Liberation Serif, serif" >0</text>
<line x1="313.85" y1="412.20" x2="313.85" y2="415.40" stroke="#2a2a2a" stroke-width="0.75" />
<text class="b" x="314.45" y="427.80" font-size="10.9" text-anchor="middle" font-family="Liberation Serif, serif" >1</text>
<line x1="340.80" y1="412.20" x2="340.80" y2="415.40" stroke="#2a2a2a" stroke-width="0.75" />
<text class="b" x="341.40" y="427.80" font-size="10.9" text-anchor="middle" font-family="Liberation Serif, serif" >2</text>
<line x1="367.75" y1="412.20" x2="367.75" y2="415.40" stroke="#2a2a2a" stroke-width="0.75" />
<text class="b" x="368.35" y="427.80" font-size="10.9" text-anchor="middle" font-family="Liberation Serif, serif" >3</text>
<line x1="394.70" y1="412.20" x2="394.70" y2="415.40" stroke="#2a2a2a" stroke-width="0.75" />
<text class="b" x="394.60" y="427.80" font-size="10.9" text-anchor="middle" font-family="Liberation Serif, serif" >4</text>
<line x1="421.65" y1="412.20" x2="421.65" y2="415.40" stroke="#2a2a2a" stroke-width="0.75" />
<text class="b" x="421.15" y="427.80" font-size="10.9" text-anchor="middle" font-family="Liberation Serif, serif" >5</text>
<text class="b" transform="translate(253.80,365.50) scale(1.0,1) rotate(-90)" font-size="13.2" text-anchor="middle" font-family="Liberation Serif, serif" >Donor PBL (%)</text>
<text class="b" x="267.1" y="453" font-size="12.15" font-family="Liberation Serif, serif" textLength="171.6" lengthAdjust="spacing">Time<tspan dx="-1.6"> </tspan>after transplantation (months)</text>
<line x1="312.80" y1="343.40" x2="312.80" y2="390.60" stroke="#000" stroke-width="1.0" />
<line x1="310.10" y1="343.40" x2="315.50" y2="343.40" stroke="#000" stroke-width="1.0" />
<line x1="310.10" y1="390.60" x2="315.50" y2="390.60" stroke="#000" stroke-width="1.0" />
<line x1="339.80" y1="302.70" x2="339.80" y2="358.30" stroke="#000" stroke-width="1.0" />
<line x1="337.10" y1="302.70" x2="342.50" y2="302.70" stroke="#000" stroke-width="1.0" />
<line x1="337.10" y1="358.30" x2="342.50" y2="358.30" stroke="#000" stroke-width="1.0" />
<line x1="337.10" y1="353.80" x2="342.50" y2="353.80" stroke="#000" stroke-width="1.0" />
<line x1="337.10" y1="318.30" x2="342.50" y2="318.30" stroke="#000" stroke-width="1.0" />
<line x1="420.00" y1="305.40" x2="420.00" y2="334.60" stroke="#000" stroke-width="1.0" />
<line x1="417.30" y1="305.40" x2="422.70" y2="305.40" stroke="#000" stroke-width="1.0" />
<line x1="417.30" y1="334.60" x2="422.70" y2="334.60" stroke="#000" stroke-width="1.0" />
<path d="M312.90,364.80 L340.00,334.60 L420.00,310.00" fill="none" stroke="#000" stroke-width="1.0" />
<path d="M312.90,358.30 L340.00,326.90 L420.00,317.70" fill="none" stroke="#000" stroke-width="1.0" />
<rect x="309.70" y="361.10" width="6.4" height="7.4" fill="#fff" stroke="#000" stroke-width="1.0"/>
<rect x="336.80" y="330.90" width="6.4" height="7.4" fill="#fff" stroke="#000" stroke-width="1.0"/>
<rect x="416.80" y="306.30" width="6.4" height="7.4" fill="#fff" stroke="#000" stroke-width="1.0"/>
<rect x="309.40" y="354.20" width="7.0" height="8.2" fill="#000" stroke="#000" stroke-width="0.5"/>
<rect x="336.50" y="322.80" width="7.0" height="8.2" fill="#000" stroke="#000" stroke-width="0.5"/>
<rect x="416.50" y="313.60" width="7.0" height="8.2" fill="#000" stroke="#000" stroke-width="0.5"/>
<rect x="416.80" y="306.30" width="6.4" height="7.4" fill="#fff" stroke="#000" stroke-width="1.0"/>
<line x1="343.70" y1="376.90" x2="363.50" y2="376.90" stroke="#000" stroke-width="1.0" />
<rect x="350.90" y="373.40" width="5.8" height="7.2" fill="#fff" stroke="#000" stroke-width="1.0"/>
<line x1="343.70" y1="395.20" x2="363.50" y2="395.20" stroke="#000" stroke-width="1.0" />
<rect x="350.30" y="391.40" width="6.6" height="8.0" fill="#000" stroke="#000" stroke-width="0.5"/>
<text class="b" x="371.90" y="379.30" font-size="11.3" text-anchor="start" font-family="Liberation Serif, serif" >KSL only</text>
<text class="b" x="371.9" y="397.6" font-size="11.3" font-family="Liberation Serif, serif">KSL<tspan dx="1.6">+</tspan><tspan dx="0.7"> FCs</tspan></text>
<line x1="274.50" y1="506.00" x2="274.50" y2="616.80" stroke="#333" stroke-width="0.9" />
<line x1="274.50" y1="616.70" x2="405.80" y2="616.70" stroke="#333" stroke-width="0.9" />
<line x1="272.80" y1="616.80" x2="274.50" y2="616.80" stroke="#333" stroke-width="0.8" />
<text class="b" x="272.40" y="622.00" font-size="11.5" text-anchor="end" font-family="Liberation Serif, serif" >0</text>
<line x1="272.80" y1="594.74" x2="274.50" y2="594.74" stroke="#333" stroke-width="0.8" />
<text class="b" x="272.40" y="599.94" font-size="11.5" text-anchor="end" font-family="Liberation Serif, serif" >20</text>
<line x1="272.80" y1="572.68" x2="274.50" y2="572.68" stroke="#333" stroke-width="0.8" />
<text class="b" x="272.40" y="577.88" font-size="11.5" text-anchor="end" font-family="Liberation Serif, serif" >40</text>
<line x1="272.80" y1="550.62" x2="274.50" y2="550.62" stroke="#333" stroke-width="0.8" />
<text class="b" x="272.40" y="555.82" font-size="11.5" text-anchor="end" font-family="Liberation Serif, serif" >60</text>
<line x1="272.80" y1="528.56" x2="274.50" y2="528.56" stroke="#333" stroke-width="0.8" />
<text class="b" x="272.40" y="533.76" font-size="11.5" text-anchor="end" font-family="Liberation Serif, serif" >80</text>
<line x1="272.80" y1="506.50" x2="274.50" y2="506.50" stroke="#333" stroke-width="0.8" />
<text class="b" x="272.40" y="511.70" font-size="11.5" text-anchor="end" font-family="Liberation Serif, serif" >100</text>
<line x1="275.00" y1="616.80" x2="275.00" y2="619.00" stroke="#333" stroke-width="0.8" />
<text class="b" x="275.20" y="631.90" font-size="10.6" text-anchor="middle" font-family="Liberation Serif, serif" >0</text>
<line x1="296.77" y1="616.80" x2="296.77" y2="619.00" stroke="#333" stroke-width="0.8" />
<text class="b" x="296.80" y="631.90" font-size="10.6" text-anchor="middle" font-family="Liberation Serif, serif" >30</text>
<line x1="318.54" y1="616.80" x2="318.54" y2="619.00" stroke="#333" stroke-width="0.8" />
<text class="b" x="319.40" y="631.90" font-size="10.6" text-anchor="middle" font-family="Liberation Serif, serif" >60</text>
<line x1="340.30" y1="616.80" x2="340.30" y2="619.00" stroke="#333" stroke-width="0.8" />
<text class="b" x="341.30" y="631.90" font-size="10.6" text-anchor="middle" font-family="Liberation Serif, serif" >90</text>
<line x1="362.07" y1="616.80" x2="362.07" y2="619.00" stroke="#333" stroke-width="0.8" />
<text class="b" x="362.50" y="631.90" font-size="10.6" text-anchor="middle" font-family="Liberation Serif, serif" >120</text>
<line x1="383.84" y1="616.80" x2="383.84" y2="619.00" stroke="#333" stroke-width="0.8" />
<text class="b" x="384.20" y="631.90" font-size="10.6" text-anchor="middle" font-family="Liberation Serif, serif" >150</text>
<line x1="405.61" y1="616.80" x2="405.61" y2="619.00" stroke="#333" stroke-width="0.8" />
<text class="b" x="404.80" y="631.90" font-size="10.6" text-anchor="middle" font-family="Liberation Serif, serif" >180</text>
<text class="b" transform="translate(250.20,557.00) scale(0.95,1) rotate(-90)" font-size="13.2" text-anchor="middle" font-family="Liberation Serif, serif" >Survival (%)</text>
<text class="b" x="267.6" y="650.7" font-size="12.25" font-family="Liberation Serif, serif" textLength="158.5" lengthAdjust="spacing">Time<tspan dx="-1.6"> </tspan>after transplantation (days)</text>
<path d="M284.40,523.50 L284.40,601.20 L291.50,601.20 L291.50,615.00" fill="none" stroke="#000" stroke-width="1.3" stroke-dasharray="1.3,3.5"/>
<path d="M275.00,506.48 L283.20,506.48 L283.20,520.27 L291.90,520.27 L291.90,561.64 L294.50,561.64 L294.50,575.43 L303.50,575.43 L303.50,603.01 L319.30,603.01 L319.30,616.80" fill="none" stroke="#000" stroke-width="1.1" />
<path d="M275.00,506.48 L303.20,506.48 L303.20,520.27 L304.20,520.27 L304.20,534.06 L315.00,534.06 L315.00,547.85 L319.60,547.85 L319.60,561.64 L326.20,561.64 L326.20,575.43 L359.20,575.43 L359.20,603.01 L366.40,603.01 L366.40,616.80" fill="none" stroke="#000" stroke-width="1.1" />
<path d="M298.40,506.48 L298.40,520.27 L307.30,520.27 L307.30,534.06 L337.60,534.06 L337.60,547.85 L347.80,547.85 L347.80,561.64 L371.30,561.64 L371.30,575.43 L395.90,575.43 L395.90,603.01 L407.70,603.01" fill="none" stroke="#000" stroke-width="1.4" />
<path d="M275.00,506.48 L313.00,506.48 L313.00,520.27 L401.90,520.27 L401.90,534.06 L407.70,534.06" fill="none" stroke="#000" stroke-width="1.1" />
<circle cx="283.20" cy="506.48" r="1.9" fill="#fff" stroke="#000" stroke-width="0.9"/>
<circle cx="283.20" cy="520.27" r="1.9" fill="#fff" stroke="#000" stroke-width="0.9"/>
<circle cx="291.90" cy="520.27" r="1.9" fill="#fff" stroke="#000" stroke-width="0.9"/>
<circle cx="291.90" cy="547.85" r="1.9" fill="#fff" stroke="#000" stroke-width="0.9"/>
<circle cx="291.90" cy="561.64" r="1.9" fill="#fff" stroke="#000" stroke-width="0.9"/>
<circle cx="294.50" cy="561.64" r="1.9" fill="#fff" stroke="#000" stroke-width="0.9"/>
<circle cx="294.50" cy="575.43" r="1.9" fill="#fff" stroke="#000" stroke-width="0.9"/>
<circle cx="303.50" cy="575.43" r="1.9" fill="#fff" stroke="#000" stroke-width="0.9"/>
<circle cx="303.50" cy="603.01" r="1.9" fill="#fff" stroke="#000" stroke-width="0.9"/>
<circle cx="319.30" cy="603.01" r="1.9" fill="#fff" stroke="#000" stroke-width="0.9"/>
<circle cx="319.30" cy="616.80" r="1.9" fill="#fff" stroke="#000" stroke-width="0.9"/>
<path d="M303.20,504.28 L305.40,508.68 L301.00,508.68 Z" fill="#fff" stroke="#000" stroke-width="0.9"/>
<path d="M304.20,518.07 L306.40,522.47 L302.00,522.47 Z" fill="#fff" stroke="#000" stroke-width="0.9"/>
<path d="M304.20,531.86 L306.40,536.26 L302.00,536.26 Z" fill="#fff" stroke="#000" stroke-width="0.9"/>
<path d="M315.00,531.86 L317.20,536.26 L312.80,536.26 Z" fill="#fff" stroke="#000" stroke-width="0.9"/>
<path d="M315.00,545.65 L317.20,550.05 L312.80,550.05 Z" fill="#fff" stroke="#000" stroke-width="0.9"/>
<path d="M319.60,545.65 L321.80,550.05 L317.40,550.05 Z" fill="#fff" stroke="#000" stroke-width="0.9"/>
<path d="M319.60,559.44 L321.80,563.84 L317.40,563.84 Z" fill="#fff" stroke="#000" stroke-width="0.9"/>
<path d="M326.20,559.44 L328.40,563.84 L324.00,563.84 Z" fill="#fff" stroke="#000" stroke-width="0.9"/>
<path d="M326.20,573.23 L328.40,577.63 L324.00,577.63 Z" fill="#fff" stroke="#000" stroke-width="0.9"/>
<path d="M359.20,573.23 L361.40,577.63 L357.00,577.63 Z" fill="#fff" stroke="#000" stroke-width="0.9"/>
<path d="M359.20,587.02 L361.40,591.42 L357.00,591.42 Z" fill="#fff" stroke="#000" stroke-width="0.9"/>
<path d="M360.20,600.81 L362.40,605.21 L358.00,605.21 Z" fill="#fff" stroke="#000" stroke-width="0.9"/>
<path d="M366.40,600.81 L368.60,605.21 L364.20,605.21 Z" fill="#fff" stroke="#000" stroke-width="0.9"/>
<path d="M366.40,614.60 L368.60,619.00 L364.20,619.00 Z" fill="#fff" stroke="#000" stroke-width="0.9"/>
<path d="M298.40,504.48 L300.40,506.48 L298.40,508.48 L296.40,506.48 Z" fill="#000" stroke="#000" stroke-width="0.6"/>
<path d="M298.40,518.27 L300.40,520.27 L298.40,522.27 L296.40,520.27 Z" fill="#000" stroke="#000" stroke-width="0.6"/>
<path d="M307.30,518.27 L309.30,520.27 L307.30,522.27 L305.30,520.27 Z" fill="#000" stroke="#000" stroke-width="0.6"/>
<path d="M307.30,532.06 L309.30,534.06 L307.30,536.06 L305.30,534.06 Z" fill="#000" stroke="#000" stroke-width="0.6"/>
<path d="M337.60,532.06 L339.60,534.06 L337.60,536.06 L335.60,534.06 Z" fill="#000" stroke="#000" stroke-width="0.6"/>
<path d="M337.60,545.85 L339.60,547.85 L337.60,549.85 L335.60,547.85 Z" fill="#000" stroke="#000" stroke-width="0.6"/>
<path d="M347.80,545.85 L349.80,547.85 L347.80,549.85 L345.80,547.85 Z" fill="#000" stroke="#000" stroke-width="0.6"/>
<path d="M347.80,559.64 L349.80,561.64 L347.80,563.64 L345.80,561.64 Z" fill="#000" stroke="#000" stroke-width="0.6"/>
<path d="M359.20,559.64 L361.20,561.64 L359.20,563.64 L357.20,561.64 Z" fill="#000" stroke="#000" stroke-width="0.6"/>
<path d="M366.40,559.64 L368.40,561.64 L366.40,563.64 L364.40,561.64 Z" fill="#000" stroke="#000" stroke-width="0.6"/>
<path d="M371.30,559.64 L373.30,561.64 L371.30,563.64 L369.30,561.64 Z" fill="#000" stroke="#000" stroke-width="0.6"/>
<path d="M371.30,573.43 L373.30,575.43 L371.30,577.43 L369.30,575.43 Z" fill="#000" stroke="#000" stroke-width="0.6"/>
<path d="M395.90,573.43 L397.90,575.43 L395.90,577.43 L393.90,575.43 Z" fill="#000" stroke="#000" stroke-width="0.6"/>
<path d="M395.90,601.01 L397.90,603.01 L395.90,605.01 L393.90,603.01 Z" fill="#000" stroke="#000" stroke-width="0.6"/>
<path d="M402.30,601.01 L404.30,603.01 L402.30,605.01 L400.30,603.01 Z" fill="#000" stroke="#000" stroke-width="0.6"/>
<rect x="273.10" y="504.58" width="3.8" height="3.8" fill="#fff" stroke="#000" stroke-width="0.9"/>
<rect x="311.10" y="504.58" width="3.8" height="3.8" fill="#fff" stroke="#000" stroke-width="0.9"/>
<rect x="311.10" y="518.37" width="3.8" height="3.8" fill="#fff" stroke="#000" stroke-width="0.9"/>
<rect x="323.90" y="518.37" width="3.8" height="3.8" fill="#fff" stroke="#000" stroke-width="0.9"/>
<rect x="335.40" y="518.37" width="3.8" height="3.8" fill="#fff" stroke="#000" stroke-width="0.9"/>
<rect x="345.50" y="518.37" width="3.8" height="3.8" fill="#fff" stroke="#000" stroke-width="0.9"/>
<rect x="400.00" y="518.37" width="3.8" height="3.8" fill="#fff" stroke="#000" stroke-width="0.9"/>
<rect x="400.00" y="532.16" width="3.8" height="3.8" fill="#fff" stroke="#000" stroke-width="0.9"/>
<line x1="447.60" y1="527.00" x2="447.60" y2="598.00" stroke="#111" stroke-width="0.9" />
<line x1="504.40" y1="527.00" x2="504.40" y2="598.00" stroke="#111" stroke-width="0.9" />
<line x1="424.00" y1="537.40" x2="520.00" y2="537.40" stroke="#111" stroke-width="0.9" />
<text class="b" x="451.30" y="533.60" font-size="12" text-anchor="start" font-family="Liberation Serif, serif" >KSL dose</text>
<text  x="511.90" y="534.20" font-size="9.5" text-anchor="middle" font-family="Liberation Sans, sans-serif" >n</text>
<text class="b" x="459.00" y="550.30" font-size="10.9" text-anchor="start" font-family="Liberation Serif, serif" >None</text>
<text class="b" x="459.80" y="562.50" font-size="10.9" text-anchor="start" font-family="Liberation Serif, serif" >2<tspan dx="1.3">000</tspan></text>
<text class="b" x="459.80" y="572.60" font-size="10.9" text-anchor="start" font-family="Liberation Serif, serif" >5<tspan dx="1.3">000</tspan></text>
<text class="b" x="459.80" y="585.70" font-size="10.9" text-anchor="start" font-family="Liberation Serif, serif" >7<tspan dx="1.3">500</tspan></text>
<text class="b" x="456.20" y="597.80" font-size="10.9" text-anchor="start" font-family="Liberation Serif, serif" >10<tspan dx="1.3">000</tspan></text>
<text class="b" x="511.90" y="548.30" font-size="10.9" text-anchor="middle" font-family="Liberation Serif, serif" >7</text>
<text class="b" x="511.90" y="561.00" font-size="10.9" text-anchor="middle" font-family="Liberation Serif, serif" >8</text>
<text class="b" x="511.90" y="573.00" font-size="10.9" text-anchor="middle" font-family="Liberation Serif, serif" >13</text>
<text class="b" x="511.90" y="583.70" font-size="10.9" text-anchor="middle" font-family="Liberation Serif, serif" >8</text>
<text class="b" x="511.90" y="597.80" font-size="10.9" text-anchor="middle" font-family="Liberation Serif, serif" >8</text>
<line x1="427.60" y1="547.70" x2="446.00" y2="547.70" stroke="#000" stroke-width="1.6" stroke-dasharray="1.5,2.55"/>
<line x1="426.70" y1="558.90" x2="444.90" y2="558.90" stroke="#000" stroke-width="1.3" />
<circle cx="435.80" cy="558.90" r="1.4" fill="#fff" stroke="#000" stroke-width="0.8"/>
<line x1="426.70" y1="569.90" x2="444.90" y2="569.90" stroke="#000" stroke-width="1.3" />
<path d="M435.80,568.10 L437.40,571.30 L434.20,571.30 Z" fill="#fff" stroke="#000" stroke-width="0.8"/>
<line x1="426.70" y1="582.60" x2="444.90" y2="582.60" stroke="#000" stroke-width="1.3" />
<path d="M435.80,580.80 L437.60,582.60 L435.80,584.40 L434.00,582.60 Z" fill="#000" stroke="#000" stroke-width="0.6"/>
<line x1="426.70" y1="594.50" x2="444.90" y2="594.50" stroke="#000" stroke-width="1.3" />
<rect x="434.50" y="593.20" width="2.6" height="2.6" fill="#fff" stroke="#000" stroke-width="0.8"/>
</svg>
</body></html>
